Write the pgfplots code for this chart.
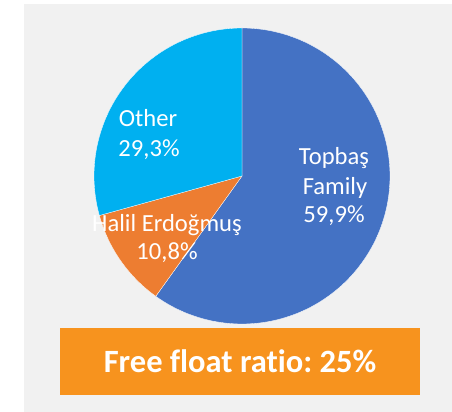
\documentclass[border=0pt]{standalone}
\usepackage{pgfplots}
\pgfplotsset{compat=1.18}
\usepackage{pgfplotstable}
\usepackage{fontspec}
\setmainfont{Carlito}[Ligatures=NoCommon]
\definecolor{topblue}{HTML}{4472C4}
\definecolor{halorange}{HTML}{ED7D31}
\definecolor{othblue}{HTML}{00B0F0}
\definecolor{bggray}{HTML}{F1F1F1}
\definecolor{boxorange}{HTML}{F7931E}
% shares in percent
\pgfplotstableread{
name share
Topbas 59.9
Halil 10.8
Other 29.3
}\sharetable
\pgfplotstablegetelem{0}{share}\of\sharetable \let\sA\pgfplotsretval
\pgfplotstablegetelem{1}{share}\of\sharetable \let\sB\pgfplotsretval
\pgfplotstablegetelem{2}{share}\of\sharetable \let\sC\pgfplotsretval
\pgfmathsetmacro\aZero{90}
\pgfmathsetmacro\aOne{90-3.6*\sA}
\pgfmathsetmacro\aTwo{\aOne-3.6*\sB}
\pgfmathsetmacro\aThree{\aTwo-3.6*\sC}
\def\cx{242}\def\cy{236}\def\rr{148}
\begin{document}
\begin{tikzpicture}
\begin{axis}[
  width=452bp, height=412bp, scale only axis,
  xmin=0, xmax=452, ymin=0, ymax=412,
  hide axis, clip=false,
]
\fill[white] (axis cs:0,0) rectangle (axis cs:452,412);
\fill[bggray] (axis cs:24,0) rectangle (axis cs:452,408);
\addplot[fill=topblue, draw=white, line width=0.3bp, domain=\aZero:\aOne, samples=120]
  ({\cx+\rr*cos(x)},{\cy+\rr*sin(x)}) -- (axis cs:\cx,\cy) -- cycle;
\addplot[fill=halorange, draw=white, line width=0.3bp, domain=\aOne:\aTwo, samples=40]
  ({\cx+\rr*cos(x)},{\cy+\rr*sin(x)}) -- (axis cs:\cx,\cy) -- cycle;
\addplot[fill=othblue, draw=white, line width=0.3bp, domain=\aTwo:\aThree, samples=80]
  ({\cx+\rr*cos(x)},{\cy+\rr*sin(x)}) -- (axis cs:\cx,\cy) -- cycle;
\begin{scope}[every node/.style={text=white, anchor=base, inner sep=0pt, font=\fontsize{24.6bp}{29bp}\selectfont}]
\node at (axis cs:148,285) {Other};
\node at (axis cs:149,255) {29,3\%};
\node at (axis cs:167,180) {Halil Erdoğmuş};
\node at (axis cs:167,152) {10,8\%};
\node at (axis cs:334,247) {Topbaş};
\node at (axis cs:335,217) {Family};
\node at (axis cs:334,189) {59,9\%};
\end{scope}
\fill[boxorange] (axis cs:60,17) rectangle (axis cs:420,84);
\node[text=white, inner sep=0pt, font=\fontsize{32.5bp}{38bp}\selectfont\bfseries] at (axis cs:240,50.5) {Free float ratio:\hspace{-0.08em} 25\%};
\end{axis}
\end{tikzpicture}
\end{document}
